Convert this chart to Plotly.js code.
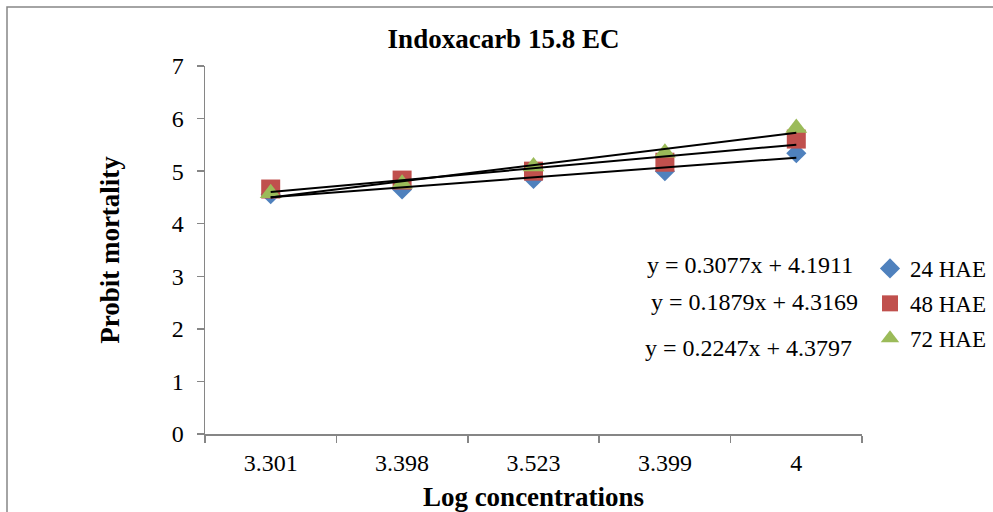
<!DOCTYPE html>
<html>
<head>
<meta charset="utf-8">
<script src="https://cdn.plot.ly/plotly-3.0.1.min.js"></script>
<style>html,body{margin:0;padding:0;background:#fff;}#chart{width:993px;height:512px;}</style>
</head>
<body>
<div id="chart"></div>
<script>
// Data
const categories = ["3.301", "3.398", "3.523", "3.399", "4"];
const seriesNames = ["24 HAE", "48 HAE", "72 HAE"];
const hae24 = [4.56, 4.65, 4.85, 5.00, 5.34];
const hae48 = [4.66, 4.83, 5.00, 5.17, 5.61];
const hae72 = [4.58, 4.76, 5.09, 5.35, 5.82];
// Linear trendline coefficients (y = slope*x + intercept, x = 1..5), per series
const slopes = [0.1879, 0.2247, 0.3077];
const intercepts = [4.3169, 4.3797, 4.1911];
// Order in which the equations are listed on the chart (top to bottom)
const equationOrder = [2, 0, 1];

const colors = ["#4F81BD", "#C0504D", "#9BBB59"];
const symbols = ["diamond", "square", "triangle-up"];
const sizes = [15.5, 19, 19];
const seriesValues = [hae24, hae48, hae72];

const FONT = "Liberation Serif, Times New Roman, serif";
const traces = [];
seriesValues.forEach((vals, i) => {
  traces.push({
    type: "scatter", mode: "markers", name: seriesNames[i],
    x: categories, y: vals,
    legendgroup: "g" + i,
    marker: {symbol: symbols[i], color: colors[i], size: sizes[i], line: {width: 0}},
    hoverinfo: "x+y+name"
  });
});
seriesValues.forEach((vals, i) => {
  traces.push({
    type: "scatter", mode: "lines", showlegend: false,
    x: categories,
    y: categories.map((c, k) => slopes[i] * (k + 1) + intercepts[i]),
    line: {color: "#000000", width: 2},
    hoverinfo: "skip"
  });
});

// plot area pixels: x 205..862, y 66..434
const L = 205, R = 862, T = 66, B = 434;
const px = v => (v - L) / (R - L);
const py = v => (B - v) / (B - T);

const eqPos = [[750, 265], [754, 302], [748, 348]];
const annotations = equationOrder.map((si, k) => ({
  xref: "paper", yref: "paper",
  x: px(eqPos[k][0]), y: py(eqPos[k][1]),
  xanchor: "center", yanchor: "middle", showarrow: false,
  text: "y = " + slopes[si].toFixed(4) + "x + " + intercepts[si].toFixed(4),
  font: {family: FONT, size: 24, color: "#000"}
}));

const layout = {
  width: 993, height: 512,
  margin: {l: L, r: 993 - R, t: T, b: 512 - B, pad: 0, autoexpand: false},
  paper_bgcolor: "#ffffff", plot_bgcolor: "#ffffff",
  font: {family: FONT, color: "#000"},
  title: {
    text: "Indoxacarb 15.8 EC",
    font: {family: FONT, size: 27, weight: "bold", color: "#000"},
    xref: "container", x: 503.5 / 993, xanchor: "center",
    yref: "container", y: 1 - 39 / 512, yanchor: "middle"
  },
  xaxis: {
    type: "category", categoryorder: "array", categoryarray: categories,
    range: [-0.5, 4.5], automargin: false,
    showline: true, linecolor: "#868686", linewidth: 1.5,
    ticks: "outside", tickson: "boundaries", ticklen: 7, tickcolor: "#868686", tickwidth: 1.5,
    showgrid: false, zeroline: false,
    tickfont: {family: FONT, size: 24, color: "#000"},
    ticklabelstandoff: 7,
    title: {text: "Log concentrations", font: {family: FONT, size: 27, weight: "bold", color: "#000"}, standoff: 26}
  },
  yaxis: {
    range: [0, 7], dtick: 1, tick0: 0, automargin: false,
    showline: true, linecolor: "#868686", linewidth: 1.5,
    ticks: "outside", ticklen: 7, tickcolor: "#868686", tickwidth: 1.5,
    showgrid: false, zeroline: false,
    tickfont: {family: FONT, size: 24, color: "#000"},
    ticklabelstandoff: 8,
    title: {text: "Probit mortality", font: {family: FONT, size: 27, weight: "bold", color: "#000"}, standoff: 44}
  },
  legend: {
    xref: "container", yref: "container",
    x: 870 / 993, xanchor: "left", y: 1 - 247 / 512, yanchor: "top",
    font: {family: FONT, size: 23, color: "#000"},
    traceorder: "grouped", tracegroupgap: 2,
    bgcolor: "rgba(0,0,0,0)", borderwidth: 0, itemwidth: 30
  },
  showlegend: true,
  annotations: annotations,
  shapes: [{
    type: "rect", xref: "paper", yref: "paper",
    x0: px(7), x1: px(1010), y0: py(530), y1: py(7),
    line: {color: "#868686", width: 1.5}, fillcolor: "rgba(0,0,0,0)", layer: "below"
  }]
};

Plotly.newPlot("chart", traces, layout, {displayModeBar: false, staticPlot: true});
</script>
</body>
</html>
